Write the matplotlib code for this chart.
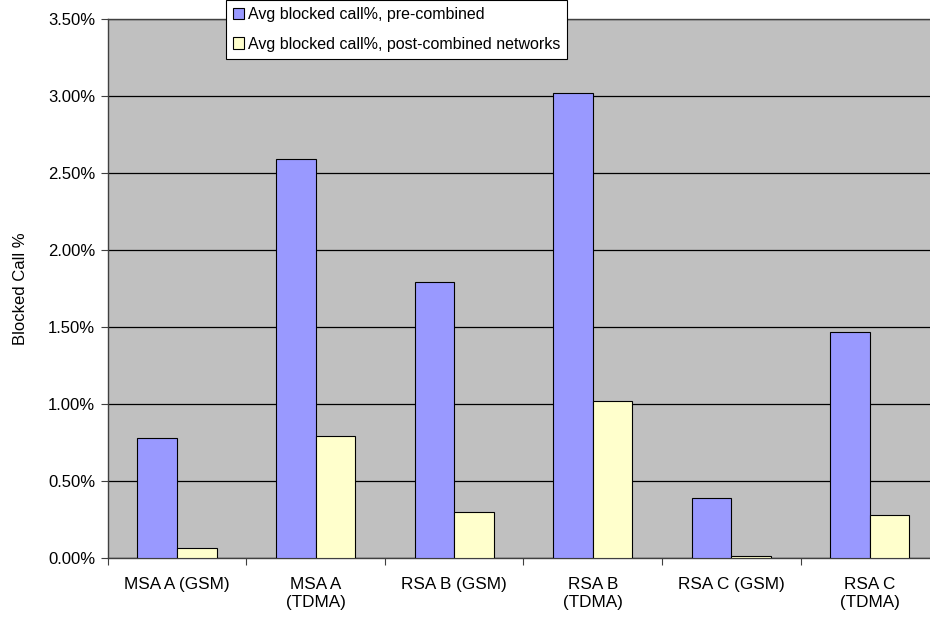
import matplotlib.pyplot as plt
import numpy as np
from matplotlib.ticker import FixedLocator, PercentFormatter

plt.rcParams["font.family"] = ["Liberation Sans", "DejaVu Sans"]

categories = [
    "MSA A (GSM)",
    "MSA A\n(TDMA)",
    "RSA B (GSM)",
    "RSA B\n(TDMA)",
    "RSA C (GSM)",
    "RSA C\n(TDMA)",
]
pre_combined = [0.78, 2.59, 1.79, 3.02, 0.39, 1.47]
post_combined = [0.06, 0.79, 0.30, 1.02, 0.01, 0.28]
series_labels = [
    "Avg blocked call%, pre-combined",
    "Avg blocked call%, post-combined networks",
]
y_ticks = [0.0, 0.5, 1.0, 1.5, 2.0, 2.5, 3.0, 3.5]

fig = plt.figure(figsize=(9.3, 6.21), dpi=100)
ax = fig.add_axes([0.1158, 0.1019, 0.894, 0.8668])
ax.set_facecolor("#C0C0C0")

x = np.arange(len(categories))
bar_w = 1 / 3.5
ax.bar(x - bar_w / 2, pre_combined, width=bar_w, color="#9999FF",
       edgecolor="black", linewidth=0.8, label=series_labels[0], zorder=3)
ax.bar(x + bar_w / 2, post_combined, width=bar_w, color="#FFFFCC",
       edgecolor="black", linewidth=0.8, label=series_labels[1], zorder=3)

ax.set_xlim(-0.5, len(categories) - 0.5)
ax.set_ylim(0, 3.5)
ax.yaxis.set_major_locator(FixedLocator(y_ticks))
ax.yaxis.set_major_formatter(PercentFormatter(decimals=2))
ax.grid(True, axis="y", color="black", linewidth=0.9, zorder=1)

# category boundaries get the tick marks, names sit at the centres
ax.xaxis.set_major_locator(FixedLocator(np.arange(len(categories) + 1) - 0.5))
ax.xaxis.set_minor_locator(FixedLocator(x))
ax.set_xticklabels([], minor=False)
ax.set_xticklabels(categories, minor=True)
ax.tick_params(axis="x", which="minor", length=0, pad=14, labelsize=12.3)
ax.tick_params(axis="x", which="major", length=5, direction="out", color="#404040")
ax.tick_params(axis="y", length=5, direction="out", labelsize=12, color="#404040", pad=4)

for side in ("left", "bottom", "top"):
    ax.spines[side].set_color("#404040")
    ax.spines[side].set_linewidth(1.0)
ax.spines["right"].set_visible(False)

ax.set_ylabel("Blocked Call %", fontsize=12, labelpad=14)

leg = fig.legend(loc="upper left", bbox_to_anchor=(226 / 930, 1.0),
                 frameon=True, fancybox=False, edgecolor="black",
                 framealpha=1, fontsize=11.5, handlelength=0.7, handleheight=0.7,
                 handletextpad=0.2, borderpad=0.45, labelspacing=0.9,
                 borderaxespad=0)
leg.get_frame().set_linewidth(0.8)

fig.savefig("out.png", dpi=100)
